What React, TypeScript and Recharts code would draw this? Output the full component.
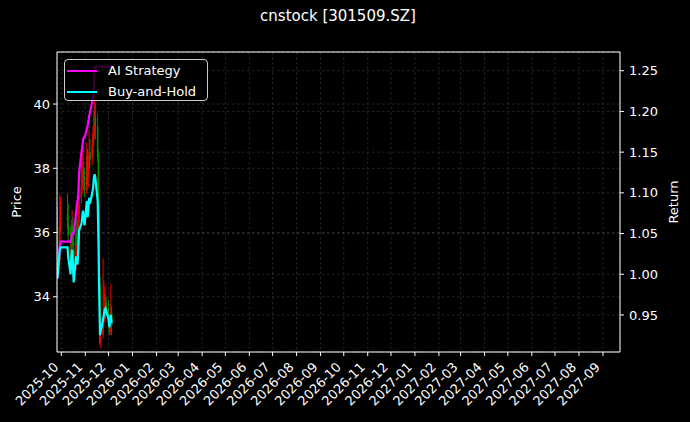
import React from 'react';
import { ComposedChart, Bar, Line, XAxis, YAxis, CartesianGrid, Legend, ReferenceLine } from 'recharts';

// trading days shown on the chart
const dates = [
  '2025-09-26', '2025-09-29', '2025-09-30', '2025-10-09', '2025-10-10',
  '2025-10-13', '2025-10-14', '2025-10-15', '2025-10-16', '2025-10-17',
  '2025-10-20', '2025-10-21', '2025-10-22', '2025-10-23', '2025-10-24',
  '2025-10-27', '2025-10-28', '2025-10-29', '2025-10-30', '2025-10-31',
  '2025-11-03', '2025-11-04', '2025-11-05', '2025-11-06', '2025-11-07',
  '2025-11-10', '2025-11-11', '2025-11-12', '2025-11-13', '2025-11-14',
  '2025-11-17', '2025-11-18', '2025-11-19', '2025-11-20', '2025-11-21',
  '2025-11-24', '2025-11-25', '2025-11-26', '2025-11-27', '2025-11-28',
  '2025-12-01', '2025-12-02', '2025-12-03', '2025-12-04', '2025-12-05',
];

const opens = [
  36.2, 35.1, 36.3, 36.5, 36.3,
  35.6, 35.3, 35.9, 36.2, 35.5,
  34.9, 36.0, 35.8, 35.6, 36.3,
  37.1, 37.4, 37.7, 37.9, 37.7,
  37.3, 38.4, 37.7, 38.0, 38.5,
  38.3, 38.7, 38.9, 39.3, 39.6,
  39.3, 38.4, 36.6, 34.3, 32.6,
  32.8, 33.3, 33.4, 33.7, 33.8,
  33.6, 33.3, 32.9, 33.1, 33.5,
];
const highs = [
  36.8, 37.2, 37.1, 37.2, 36.9,
  36.2, 36.4, 36.7, 36.5, 35.9,
  36.3, 36.9, 36.4, 36.9, 37.6,
  38.2, 38.7, 38.8, 38.3, 38.0,
  38.8, 38.6, 38.4, 39.2, 38.9,
  39.1, 39.3, 39.8, 40.4, 40.0,
  39.7, 38.6, 36.9, 34.6, 33.3,
  35.2, 34.5, 34.3, 34.1, 34.0,
  33.9, 33.5, 33.5, 34.4, 33.7,
];
const lows = [
  34.9, 35.0, 36.0, 36.1, 35.7,
  35.0, 35.1, 35.7, 35.4, 34.7,
  34.8, 35.6, 35.3, 35.5, 36.1,
  36.9, 37.2, 37.5, 37.3, 37.1,
  37.2, 37.5, 37.4, 37.8, 38.0,
  38.1, 38.4, 38.7, 39.0, 38.9,
  38.2, 36.4, 34.2, 32.5, 32.4,
  32.7, 33.1, 33.2, 33.3, 33.4,
  33.1, 32.8, 32.8, 32.9, 32.8,
];
const closes = [
  35.03, 36.26, 36.36, 36.36, 35.90,
  35.20, 35.90, 36.26, 35.55, 34.85,
  35.97, 35.73, 35.62, 36.26, 37.10,
  37.38, 37.66, 37.95, 37.66, 37.31,
  38.37, 37.66, 38.02, 38.51, 38.26,
  38.72, 38.90, 39.35, 39.53, 39.35,
  38.37, 36.61, 34.32, 32.56, 32.74,
  33.26, 33.44, 33.65, 33.72, 33.62,
  33.26, 32.91, 33.09, 33.44, 33.09,
];

const aiStrategy = [
  0.995, 1.035, 1.040, 1.040, 1.040,
  1.040, 1.045, 1.050, 1.050, 1.050,
  1.075, 1.085, 1.090, 1.100, 1.125,
  1.150, 1.155, 1.165, 1.168, 1.168,
  1.178, 1.182, 1.187, 1.195, 1.198,
  1.212, 1.218, 1.225, 1.253, 1.255,
  1.255, 1.255, 1.255, 1.255, 1.255,
  1.255, 1.255, 1.255, 1.255, 1.255,
  1.255, 1.255, 1.255, 1.255, 1.255,
];
const buyAndHold = [
  0.995, 1.030, 1.033, 1.033, 1.020,
  1.000, 1.020, 1.030, 1.010, 0.990,
  1.022, 1.015, 1.012, 1.030, 1.054,
  1.062, 1.070, 1.078, 1.070, 1.060,
  1.090, 1.070, 1.080, 1.094, 1.087,
  1.100, 1.105, 1.118, 1.123, 1.118,
  1.090, 1.040, 0.975, 0.925, 0.930,
  0.945, 0.950, 0.956, 0.958, 0.955,
  0.945, 0.935, 0.940, 0.950, 0.940,
];

const monthLabels = [
  '2025-10', '2025-11', '2025-12', '2026-01', '2026-02', '2026-03',
  '2026-04', '2026-05', '2026-06', '2026-07', '2026-08', '2026-09',
  '2026-10', '2026-11', '2026-12', '2027-01', '2027-02', '2027-03',
  '2027-04', '2027-05', '2027-06', '2027-07', '2027-08', '2027-09',
];
const priceTicks = [34, 36, 38, 40];
const returnTicks = [0.95, 1.0, 1.05, 1.1, 1.15, 1.2, 1.25];

const series = [
  { key: 'ai', name: 'AI Strategy', color: '#ff00ff' },
  { key: 'bh', name: 'Buy-and-Hold', color: '#00ffff' },
];

const toTime = (s: string) => {
  const [y, m, d] = s.split('-').map(Number);
  return Date.UTC(y, m - 1, d || 1);
};

const data = dates.map((d, i) => ({
  t: toTime(d),
  open: opens[i],
  high: highs[i],
  low: lows[i],
  close: closes[i],
  ai: aiStrategy[i],
  bh: buyAndHold[i],
}));

const xTicks = monthLabels.map(toTime);
const xDomain = [Date.UTC(2025, 8, 25, 10), Date.UTC(2027, 8, 23)];
const priceDomain = [32.28, 41.62];
const returnDomain = [0.9045, 1.273];

const FONT = '"DejaVu Sans", sans-serif';
const TICK = { fill: '#fff', fontSize: 13, fontFamily: FONT };
const GRID = { stroke: '#3e3e3e', strokeWidth: 0.6, strokeDasharray: '2.5 2.5' };

const Candle = (props: any) => {
  const { x, y, width, height, payload } = props;
  if (payload == null || height == null) return null;
  const { open, close, high, low } = payload;
  const cx = x + width / 2;
  const k = height / (high - low);
  const yo = y + (high - open) * k;
  const yc = y + (high - close) * k;
  const color = close >= open ? '#e60000' : '#008a00';
  return (
    <g>
      <line x1={cx} x2={cx} y1={y} y2={y + height} stroke={color} strokeWidth={1} />
      <rect x={cx - 0.8} y={Math.min(yo, yc)} width={1.6} height={Math.max(Math.abs(yc - yo), 0.8)} fill={color} />
    </g>
  );
};

const MonthTick = ({ x, y, payload }: any) => {
  const label = new Date(payload.value).toISOString().slice(0, 7);
  return (
    <g transform={`translate(${x - 2},${y + 10})`}>
      <text x={0} y={0} textAnchor="end" transform="rotate(-45)" {...TICK}>{label}</text>
    </g>
  );
};

const SideLabel = ({ viewBox, text, side }: any) => {
  const cy = viewBox.y + viewBox.height / 2;
  const cx = side === 'left' ? 16 : 673;
  return (
    <text x={cx} y={cy} textAnchor="middle" dominantBaseline="central"
      transform={`rotate(-90, ${cx}, ${cy})`} {...TICK}>{text}</text>
  );
};

const LegendBox = () => (
  <div style={{
    width: 144, height: 42, boxSizing: 'border-box', border: '1px solid #cccccc',
    borderRadius: 4, background: 'rgba(0,0,0,0.8)', padding: '0 0 0 2px',
    fontFamily: FONT, fontSize: 13, color: '#fff',
  }}>
    {series.map((s) => (
      <div key={s.key} style={{ display: 'flex', alignItems: 'center', height: 21 }}>
        <span style={{ display: 'inline-block', width: 30, height: 2, background: s.color, marginRight: 11 }} />
        <span>{s.name}</span>
      </div>
    ))}
  </div>
);

export default function App() {
  return (
    <div style={{ position: 'absolute', left: 0, top: 0, width: 690, height: 422, background: '#000' }}>
      <div style={{
        position: 'absolute', left: 0, top: 7, width: 676, textAlign: 'center',
        color: '#fff', fontFamily: FONT, fontSize: 15,
      }}>
        cnstock [301509.SZ]
      </div>
      <ComposedChart width={690} height={422} data={data} margin={{ top: 52, right: 0, bottom: 0, left: 0 }}>
        <CartesianGrid yAxisId="price" {...GRID} />
        <CartesianGrid yAxisId="ret" vertical={false} {...GRID} />
        <XAxis dataKey="t" type="number" domain={xDomain} ticks={xTicks} allowDataOverflow
          height={70} interval={0} tick={<MonthTick />} tickSize={4}
          axisLine={{ stroke: '#fff' }} tickLine={{ stroke: '#fff' }} />
        <YAxis yAxisId="price" orientation="left" width={57} domain={priceDomain} ticks={priceTicks}
          allowDataOverflow tick={TICK} tickSize={4} tickMargin={3}
          axisLine={{ stroke: '#fff' }} tickLine={{ stroke: '#fff' }}
          label={<SideLabel text="Price" side="left" />} />
        <YAxis yAxisId="ret" orientation="right" width={70} domain={returnDomain} ticks={returnTicks}
          allowDataOverflow tick={TICK} tickSize={4} tickMargin={5}
          tickFormatter={(v: number) => v.toFixed(2)}
          axisLine={{ stroke: '#fff' }} tickLine={{ stroke: '#fff' }}
          label={<SideLabel text="Return" side="right" />} />
        <ReferenceLine yAxisId="price" y={priceDomain[1]} stroke="#fff" />
        <Bar yAxisId="price" dataKey={(d: any) => [d.low, d.high]} barSize={2} shape={<Candle />}
          legendType="none" isAnimationActive={false} />
        {series.map((s) => (
          <Line key={s.key} yAxisId="ret" type="linear" dataKey={s.key} name={s.name} stroke={s.color}
            strokeWidth={2.2} dot={false} activeDot={false} isAnimationActive={false} />
        ))}
        <Legend content={<LegendBox />} layout="horizontal" verticalAlign="middle" align="center"
          wrapperStyle={{ left: 64, top: 59, width: 144 }} />
      </ComposedChart>
    </div>
  );
}
